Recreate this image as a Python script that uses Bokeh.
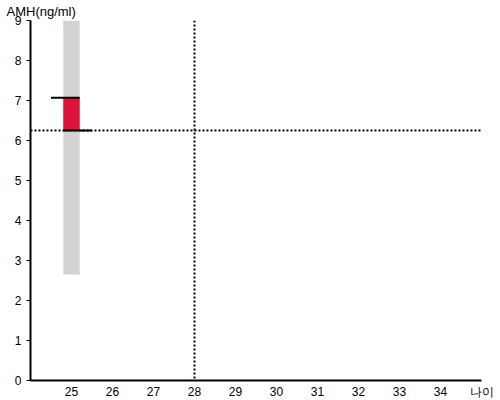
from bokeh.plotting import figure
from bokeh.models import Range1d, FixedTicker, Span
from bokeh.embed import file_html
from bokeh.resources import INLINE

# data
age = [25]
amh_range_low = [2.65]
amh_range_high = [9.0]
amh_value = [7.07]
amh_reference = 6.25
age_reference = 28
x_ticks = [25, 26, 27, 28, 29, 30, 31, 32, 33, 34]
y_ticks = [0, 1, 2, 3, 4, 5, 6, 7, 8, 9]
x_axis_title = "나이"
y_axis_title = "AMH(ng/ml)"
x_max = 35

p = figure(frame_width=451, frame_height=360, output_backend="svg", toolbar_location=None,
           x_range=Range1d(24, x_max), y_range=Range1d(0, 9),
           min_border_left=30, min_border_right=19, min_border_top=20, min_border_bottom=20,
           title=y_axis_title)
p.outline_line_color = None
p.xgrid.visible = False
p.ygrid.visible = False

FONT = "Liberation Sans"
p.title.text_font = FONT
p.title.text_font_size = "13px"
p.title.text_font_style = "normal"
p.title.text_color = "black"
p.title.align = "left"
p.title.offset = -24
p.title.standoff = 3

for ax in (p.xaxis[0], p.yaxis[0]):
    ax.axis_line_width = 2
    ax.axis_line_color = "black"
    ax.minor_tick_line_color = None
    ax.major_label_text_font = FONT
    ax.major_label_text_font_size = "12px"
    ax.major_label_text_color = "black"
    ax.major_tick_in = 0
# x-axis title shown at the axis end, like the reference
p.xaxis.ticker = FixedTicker(ticks=x_ticks + [x_max])
p.xaxis.major_label_overrides = {x_max: x_axis_title}
p.yaxis.ticker = FixedTicker(ticks=y_ticks)
p.xaxis.major_tick_out = 0
p.xaxis.major_label_standoff = 4
p.yaxis.major_tick_out = 4
p.yaxis.major_tick_line_width = 1
p.yaxis.major_label_standoff = 5

# normal range bar
p.vbar(x=age, width=0.4, bottom=amh_range_low, top=amh_range_high,
       fill_color="#d3d3d3", line_color=None)
# value bar from reference to value
p.vbar(x=age, width=0.4, bottom=[amh_reference], top=amh_value,
       fill_color="#dc143c", line_color=None)
# marker lines
p.segment(x0=[a - 0.5 for a in age], x1=[a + 0.2 for a in age], y0=amh_value, y1=amh_value,
          line_color="black", line_width=2)
p.segment(x0=[a - 0.2 for a in age], x1=[a + 0.5 for a in age], y0=[amh_reference], y1=[amh_reference],
          line_color="black", line_width=2)

p.add_layout(Span(location=amh_reference, dimension="width", line_color="black",
                  line_width=2, line_dash="2 2"))
p.add_layout(Span(location=age_reference, dimension="height", line_color="black",
                  line_width=2, line_dash="2 2"))

open("out.html", "w").write(file_html(p, INLINE))
